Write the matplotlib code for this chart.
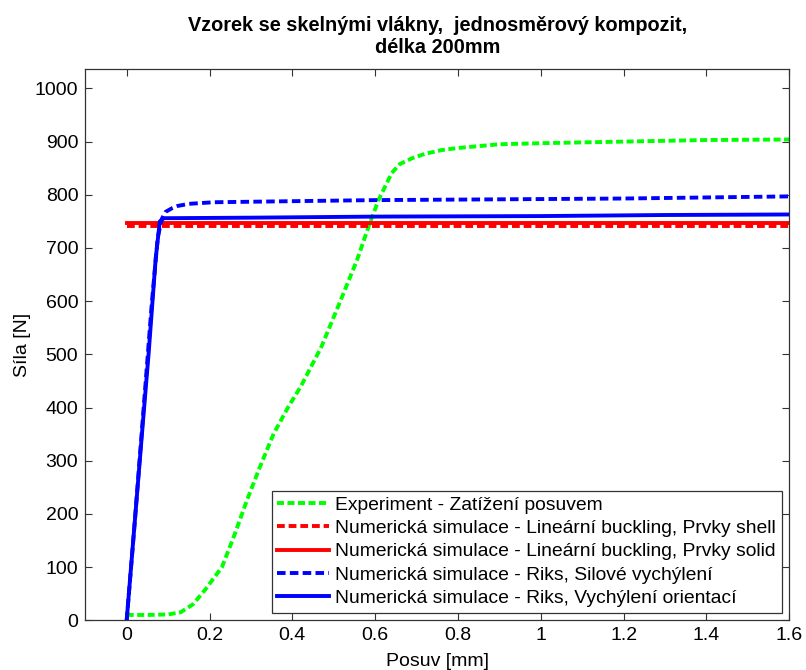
import numpy as np
import matplotlib
matplotlib.use("Agg")
import matplotlib.pyplot as plt

plt.rcParams['font.family'] = ['Liberation Sans', 'DejaVu Sans']

# experiment - displacement-controlled loading
exp_x = [0, 0.05, 0.1, 0.13, 0.16, 0.19, 0.23, 0.26, 0.29, 0.32, 0.355, 0.39,
         0.42, 0.47, 0.51, 0.556, 0.584, 0.608, 0.64, 0.66, 0.69, 0.72, 0.76,
         0.8, 0.9, 1.0, 1.2, 1.4, 1.6]
exp_f = [10, 10, 11, 15, 30, 58, 100, 160, 225, 285, 351, 401,
         439, 514, 589, 677, 740, 790, 841, 858, 869, 877, 884,
         888, 895, 897, 900, 903, 904]

# linear buckling (constant critical force)
buck_x = [0, 1.6]
buck_shell = [741, 741]
buck_solid = [747, 747]

# Riks - force imperfection
riks_f_x = [0, 0.02, 0.04, 0.06, 0.075, 0.085, 0.094, 0.11, 0.123, 0.15, 0.21,
            0.4, 0.6, 0.8, 1.0, 1.2, 1.4, 1.6]
riks_f_y = [0, 190, 390, 590, 720, 755, 768, 775, 779, 783, 786,
            788, 790, 791, 792, 793, 795, 797]

# Riks - orientation imperfection
riks_o_x = [0, 0.02, 0.04, 0.053, 0.07, 0.08, 0.09, 0.3, 0.6, 1.0, 1.3, 1.6]
riks_o_y = [0, 190, 380, 502, 680, 750, 756, 757, 759, 760, 762, 763]

labels = ['Experiment - Zatížení posuvem',
          'Numerická simulace - Lineární buckling, Prvky shell',
          'Numerická simulace - Lineární buckling, Prvky solid',
          'Numerická simulace - Riks, Silové vychýlení',
          'Numerická simulace - Riks, Vychýlení orientací']

fig = plt.figure(figsize=(8.06, 6.70), dpi=100)
ax = fig.add_axes([0.1058, 0.0742, 0.8735, 0.8224])

lw = 2.8
ax.plot(exp_x, exp_f, color='#00ff00', lw=lw, ls=(0, (1.8, 0.9)), label=labels[0])
ax.plot(buck_x, buck_shell, color='#ff0000', lw=lw, ls=(0, (2.0, 1.0)), label=labels[1])
ax.plot(buck_x, buck_solid, color='#ff0000', lw=lw, ls='-', label=labels[2])
ax.plot(riks_f_x, riks_f_y, color='#0000ff', lw=lw, ls=(0, (2.2, 1.1)), label=labels[3])
ax.plot(riks_o_x, riks_o_y, color='#0000ff', lw=lw, ls='-', label=labels[4])

ax.set_xlim(-0.1, 1.6)
ax.set_ylim(0, 1036)
ax.set_xticks(np.arange(0, 1.61, 0.2))
ax.set_xticklabels(['0', '0.2', '0.4', '0.6', '0.8', '1', '1.2', '1.4', '1.6'])
ax.set_yticks(np.arange(0, 1001, 100))
ax.tick_params(direction='in', length=5, width=0.8, top=True, right=True,
               labelsize=14, colors='#333333', labelcolor='black', pad=5)
for sp in ax.spines.values():
    sp.set_color('#333333')
    sp.set_linewidth(0.9)

ax.set_xlabel('Posuv [mm]', fontsize=14, labelpad=6)
ax.set_ylabel('Síla [N]', fontsize=14, labelpad=3)
ax.set_title('Vzorek se skelnými vlákny,  jednosměrový kompozit,\ndélka 200mm',
             fontsize=14.3, fontweight='bold', pad=12, linespacing=1.15)

leg = ax.legend(loc='lower right', fontsize=13.85, handlelength=2.7,
                handletextpad=0.3, borderpad=0.3, labelspacing=0.3,
                fancybox=False, framealpha=1, borderaxespad=0.4)
leg.get_frame().set_edgecolor('#333333')
leg.get_frame().set_linewidth(0.9)

fig.savefig('out.png', dpi=100)
